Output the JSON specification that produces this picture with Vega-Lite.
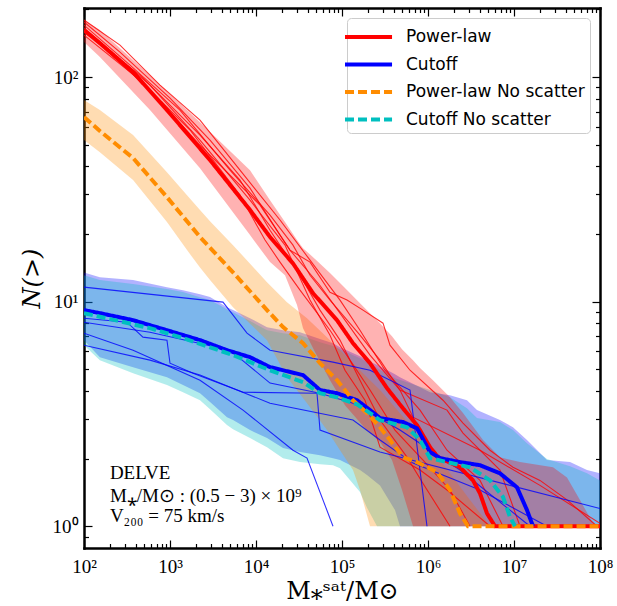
{
  "$schema": "https://vega.github.io/schema/vega-lite/v6.json",
  "width": 516,
  "height": 540,
  "autosize": {"type": "none"},
  "padding": {"left": 84, "top": 8, "right": 17, "bottom": 58},
  "background": "white",
  "config": {
    "view": {"stroke": null},
    "axis": {
      "domain": true, "domainColor": "black", "domainWidth": 2.5, "domainCap": "square",
      "grid": false, "ticks": true, "tickColor": "black", "tickWidth": 1.2,
      "labelFont": "Liberation Serif", "labelFontSize": 19, "labelColor": "black",
      "titleFont": "DejaVu Serif", "titleFontSize": 24, "titleColor": "black", "titleFontWeight": "normal",
      "zindex": 1, "labelOverlap": false, "labelFlush": false, "labelBound": false
    },
    "legend": {
      "orient": "top-right", "offset": 10, "padding": 5,
      "fillColor": "rgba(255,255,255,0.8)", "strokeColor": "#cccccc", "cornerRadius": 4,
      "labelFont": "DejaVu Sans", "labelFontSize": 17, "labelColor": "black", "labelLimit": 400,
      "symbolType": "M-1.75,0L2.17,0", "symbolSize": 576, "labelOffset": 26, "rowPadding": 5.5
    }
  },
  "datasets": {
    "med": [
      {"series":"Power-law","m":100,"n":161.9},{"series":"Power-law","m":153,"n":141.6},{"series":"Power-law","m":372,"n":105.3},{"series":"Power-law","m":922,"n":71.3},{"series":"Power-law","m":2920,"n":42.7},{"series":"Power-law","m":8517,"n":25.6},{"series":"Power-law","m":14560,"n":19.4},{"series":"Power-law","m":26920,"n":14.8},{"series":"Power-law","m":46050,"n":10.9},{"series":"Power-law","m":87450,"n":8.27},{"series":"Power-law","m":134200,"n":6.53},{"series":"Power-law","m":211700,"n":5.32},{"series":"Power-law","m":333400,"n":4.12},{"series":"Power-law","m":511700,"n":3.35},{"series":"Power-law","m":745100,"n":2.82},{"series":"Power-law","m":1055000,"n":2.25},{"series":"Power-law","m":1306000,"n":2.03},{"series":"Power-law","m":2357000,"n":1.83},{"series":"Power-law","m":3337000,"n":1.6},{"series":"Power-law","m":4025000,"n":1.4},{"series":"Power-law","m":4856000,"n":1.14},{"series":"Power-law","m":6010000,"n":1},{"series":"Power-law","m":100000000,"n":1},
      {"series":"Cutoff","m":100,"n":9.17},{"series":"Cutoff","m":153,"n":8.89},{"series":"Cutoff","m":372,"n":8.27},{"series":"Cutoff","m":922,"n":7.46},{"series":"Cutoff","m":2233,"n":6.74},{"series":"Cutoff","m":4600,"n":6.08},{"series":"Cutoff","m":8517,"n":5.66},{"series":"Cutoff","m":14560,"n":5.11},{"series":"Cutoff","m":35230,"n":4.71},{"series":"Cutoff","m":55480,"n":4.04},{"series":"Cutoff","m":87450,"n":3.91},{"series":"Cutoff","m":149400,"n":3.64},{"series":"Cutoff","m":211700,"n":3.29},{"series":"Cutoff","m":276700,"n":3.03},{"series":"Cutoff","m":511700,"n":2.91},{"series":"Cutoff","m":745100,"n":2.73},{"series":"Cutoff","m":1055000,"n":2.14},{"series":"Cutoff","m":1380000,"n":2.01},{"series":"Cutoff","m":2357000,"n":1.93},{"series":"Cutoff","m":4025000,"n":1.87},{"series":"Cutoff","m":6870000,"n":1.72},{"series":"Cutoff","m":10830000,"n":1.49},{"series":"Cutoff","m":14160000,"n":1.18},{"series":"Cutoff","m":16630000,"n":1},
      {"series":"Power-law No scatter","m":100,"n":66.4},{"series":"Power-law No scatter","m":153,"n":57.5},{"series":"Power-law No scatter","m":372,"n":43.6},{"series":"Power-law No scatter","m":922,"n":29.2},{"series":"Power-law No scatter","m":2233,"n":19.4},{"series":"Power-law No scatter","m":5405,"n":13.5},{"series":"Power-law No scatter","m":13430,"n":9.17},{"series":"Power-law No scatter","m":20620,"n":7.7},{"series":"Power-law No scatter","m":35230,"n":6.53},{"series":"Power-law No scatter","m":55480,"n":5.32},{"series":"Power-law No scatter","m":87450,"n":4.47},{"series":"Power-law No scatter","m":134200,"n":3.64},{"series":"Power-law No scatter","m":195300,"n":3.19},{"series":"Power-law No scatter","m":276700,"n":2.76},{"series":"Power-law No scatter","m":361400,"n":2.42},{"series":"Power-law No scatter","m":511700,"n":2.03},{"series":"Power-law No scatter","m":745100,"n":1.93},{"series":"Power-law No scatter","m":1273000,"n":1.74},{"series":"Power-law No scatter","m":1802000,"n":1.45},{"series":"Power-law No scatter","m":2357000,"n":1.14},{"series":"Power-law No scatter","m":2918000,"n":1},{"series":"Power-law No scatter","m":100000000,"n":1},
      {"series":"Cutoff No scatter","m":100,"n":8.89},{"series":"Cutoff No scatter","m":585,"n":7.62},{"series":"Cutoff No scatter","m":1416,"n":6.88},{"series":"Cutoff No scatter","m":5405,"n":5.78},{"series":"Cutoff No scatter","m":14560,"n":4.95},{"series":"Cutoff No scatter","m":35230,"n":4.38},{"series":"Cutoff No scatter","m":55480,"n":3.91},{"series":"Cutoff No scatter","m":87450,"n":3.75},{"series":"Cutoff No scatter","m":149400,"n":3.49},{"series":"Cutoff No scatter","m":211700,"n":3.19},{"series":"Cutoff No scatter","m":276700,"n":2.97},{"series":"Cutoff No scatter","m":570000,"n":2.76},{"series":"Cutoff No scatter","m":807600,"n":2.42},{"series":"Cutoff No scatter","m":1055000,"n":2.01},{"series":"Cutoff No scatter","m":1663000,"n":1.93},{"series":"Cutoff No scatter","m":3079000,"n":1.83},{"series":"Cutoff No scatter","m":5262000,"n":1.6},{"series":"Cutoff No scatter","m":7450000,"n":1.35},{"series":"Cutoff No scatter","m":8980000,"n":1.1},{"series":"Cutoff No scatter","m":10280000,"n":1}
    ],
    "bandRed": [
      {"m":100,"n":179.5,"n2":143.2},{"m":153,"n":161.9,"n2":122.7},{"m":585,"n":102,"n2":71.3},{"m":2233,"n":63,"n2":39.3},{"m":8517,"n":38.5,"n2":19.8},{"m":14560,"n":28.3,"n2":15},{"m":21740,"n":22.6,"n2":13.1},{"m":29980,"n":18.8,"n2":9.65},{"m":35230,"n":17.3,"n2":7.62},{"m":48550,"n":15.5,"n2":5.96},{"m":72510,"n":13.4,"n2":4.47},{"m":108300,"n":11.5,"n2":3.46},{"m":185000,"n":9.35,"n2":2.73},{"m":276700,"n":8.02,"n2":2.37},{"m":381100,"n":7.02,"n2":1.97},{"m":498800,"n":6.14,"n2":1.45},{"m":669600,"n":5.49,"n2":1},{"m":807600,"n":5.06,"n2":1},{"m":1143000,"n":4.47,"n2":1},{"m":1802000,"n":3.75,"n2":1},{"m":2553000,"n":3.19,"n2":1},{"m":4364000,"n":2.42,"n2":1},{"m":6870000,"n":2.03,"n2":1},{"m":11740000,"n":1.93,"n2":1},{"m":28400000,"n":1.83,"n2":1},{"m":41330000,"n":1.65,"n2":1},{"m":58500000,"n":1.31,"n2":1},{"m":82900000,"n":1.03,"n2":1},{"m":92300000,"n":1,"n2":1}
    ],
    "bandOrange": [
      {"m":100,"n":79,"n2":52.4},{"m":153,"n":71.3,"n2":46.3},{"m":372,"n":55.2,"n2":34.8},{"m":922,"n":37.7,"n2":22.6},{"m":1578,"n":29.8,"n2":16.96},{"m":2233,"n":25.6,"n2":14.2},{"m":2920,"n":22.8,"n2":12.47},{"m":5405,"n":17.85,"n2":9.45},{"m":13430,"n":12.2,"n2":6.74},{"m":22920,"n":9.95,"n2":4.61},{"m":39190,"n":8.44,"n2":3.53},{"m":66910,"n":6.95,"n2":2.68},{"m":94790,"n":6.08,"n2":2.18},{"m":134200,"n":5.32,"n2":1.78},{"m":161900,"n":4.95,"n2":1.45},{"m":211700,"n":4.47,"n2":1},{"m":276700,"n":4.04,"n2":1},{"m":617700,"n":2.82,"n2":1},{"m":1380000,"n":1.97,"n2":1},{"m":3079000,"n":1.31,"n2":1},{"m":5262000,"n":1,"n2":1}
    ],
    "bandBlue": [
      {"m":100,"n":13.5,"n2":6.74},{"m":153,"n":12.85,"n2":5.66},{"m":372,"n":12.47,"n2":5.11},{"m":922,"n":11.6,"n2":4.61},{"m":1416,"n":11.25,"n2":4.25},{"m":2233,"n":10.8,"n2":3.91},{"m":2920,"n":10.5,"n2":3.57},{"m":4600,"n":9.45,"n2":3.06},{"m":5405,"n":9.17,"n2":2.97},{"m":8517,"n":8.44,"n2":2.68},{"m":13430,"n":7.7,"n2":2.47},{"m":20620,"n":7.46,"n2":2.23},{"m":32500,"n":7.31,"n2":2.14},{"m":55480,"n":6.81,"n2":2.07},{"m":78590,"n":6.53,"n2":2.01},{"m":94790,"n":6.27,"n2":1.97},{"m":161900,"n":5.72,"n2":1.78},{"m":195300,"n":5.49,"n2":1.69},{"m":276700,"n":5.16,"n2":1.52},{"m":413100,"n":4.75,"n2":1.18},{"m":472100,"n":4.61,"n2":1},{"m":1055000,"n":3.95,"n2":1},{"m":1802000,"n":3.83,"n2":1},{"m":2841000,"n":3.64,"n2":1},{"m":3713000,"n":3.29,"n2":1},{"m":6870000,"n":2.97,"n2":1},{"m":9730000,"n":2.76,"n2":1},{"m":14160000,"n":2.42,"n2":1},{"m":24190000,"n":1.97,"n2":1},{"m":44800000,"n":1.93,"n2":1},{"m":70600000,"n":1.78,"n2":1},{"m":100000000,"n":1.72,"n2":1}
    ],
    "bandCyan": [
      {"m":100,"n":13.1,"n2":6.4},{"m":153,"n":12.47,"n2":5.49},{"m":372,"n":11.97,"n2":4.8},{"m":922,"n":11.37,"n2":4.25},{"m":1416,"n":11.03,"n2":3.95},{"m":2233,"n":10.47,"n2":3.64},{"m":2920,"n":10.16,"n2":3.32},{"m":4600,"n":9.26,"n2":2.82},{"m":5405,"n":8.98,"n2":2.7},{"m":8517,"n":8.19,"n2":2.47},{"m":13430,"n":7.46,"n2":2.25},{"m":20620,"n":7.24,"n2":2.01},{"m":32500,"n":7.09,"n2":1.93},{"m":55480,"n":6.6,"n2":1.89},{"m":78590,"n":6.34,"n2":1.87},{"m":94790,"n":6.14,"n2":1.81},{"m":161900,"n":5.6,"n2":1.42},{"m":195300,"n":5.38,"n2":1.21},{"m":255300,"n":5.06,"n2":1},{"m":413100,"n":4.56,"n2":1},{"m":1055000,"n":4.04,"n2":1},{"m":1802000,"n":3.75,"n2":1},{"m":2841000,"n":3.35,"n2":1},{"m":3713000,"n":3.03,"n2":1},{"m":6870000,"n":2.91,"n2":1},{"m":9730000,"n":2.68,"n2":1},{"m":14160000,"n":2.34,"n2":1},{"m":24190000,"n":1.99,"n2":1},{"m":44800000,"n":1.85,"n2":1},{"m":70600000,"n":1.72,"n2":1},{"m":100000000,"n":1.6,"n2":1}
    ],
    "thinRed": [
      {"id":"R1","m":100,"n":175.8},{"id":"R1","m":262,"n":129.2},{"id":"R1","m":1000,"n":80.6},{"id":"R1","m":2920,"n":52.4},{"id":"R1","m":8517,"n":32},{"id":"R1","m":19020,"n":19.8},{"id":"R1","m":24830,"n":16.96},{"id":"R1","m":42480,"n":15},{"id":"R1","m":72510,"n":11},{"id":"R1","m":114300,"n":10.16},{"id":"R1","m":175500,"n":9.17},{"id":"R1","m":299900,"n":8.02},{"id":"R1","m":361400,"n":6.4},{"id":"R1","m":617700,"n":4.95},{"id":"R1","m":1494000,"n":3.64},{"id":"R1","m":2553000,"n":2.88},{"id":"R1","m":5262000,"n":2.18},{"id":"R1","m":9730000,"n":1.83},{"id":"R1","m":20050000,"n":1.6},{"id":"R1","m":41330000,"n":1.31},{"id":"R1","m":92300000,"n":1},
      {"id":"R2","m":100,"n":170.4},{"id":"R2","m":343,"n":113.1},{"id":"R2","m":1306,"n":71.3},{"id":"R2","m":4985,"n":38.5},{"id":"R2","m":14560,"n":24.3},{"id":"R2","m":26920,"n":17.85},{"id":"R2","m":42480,"n":13.1},{"id":"R2","m":72510,"n":10.16},{"id":"R2","m":161900,"n":7.09},{"id":"R2","m":276700,"n":5.49},{"id":"R2","m":472100,"n":4.04},{"id":"R2","m":1663000,"n":3.29},{"id":"R2","m":2553000,"n":2.6},{"id":"R2","m":6870000,"n":1.78},{"id":"R2","m":11740000,"n":1},
      {"id":"R3","m":100,"n":153.8},{"id":"R3","m":448,"n":97},{"id":"R3","m":1709,"n":58.1},{"id":"R3","m":6517,"n":29.8},{"id":"R3","m":12730,"n":18.8},{"id":"R3","m":19020,"n":15},{"id":"R3","m":32500,"n":11.25},{"id":"R3","m":72510,"n":7.46},{"id":"R3","m":123800,"n":5.49},{"id":"R3","m":211700,"n":4.04},{"id":"R3","m":413100,"n":2.68},{"id":"R3","m":875300,"n":1.97},{"id":"R3","m":1802000,"n":1.45},{"id":"R3","m":3079000,"n":1},
      {"id":"R4","m":100,"n":165.3},{"id":"R4","m":585,"n":92.1},{"id":"R4","m":2233,"n":52.4},{"id":"R4","m":8517,"n":28.3},{"id":"R4","m":21740,"n":17.85},{"id":"R4","m":42480,"n":10.16},{"id":"R4","m":72510,"n":7.09},{"id":"R4","m":108300,"n":4.95},{"id":"R4","m":185000,"n":3.64},{"id":"R4","m":276700,"n":2.25},{"id":"R4","m":807600,"n":1.78},{"id":"R4","m":1663000,"n":1.45},{"id":"R4","m":5262000,"n":1},
      {"id":"R5","m":100,"n":158.6},{"id":"R5","m":448,"n":102},{"id":"R5","m":2233,"n":55.1},{"id":"R5","m":6517,"n":34.8},{"id":"R5","m":14560,"n":20.8},{"id":"R5","m":32500,"n":13.1},{"id":"R5","m":55480,"n":9.17},{"id":"R5","m":94790,"n":6.74},{"id":"R5","m":161900,"n":4.47},{"id":"R5","m":276700,"n":2.97},{"id":"R5","m":570000,"n":2.03},{"id":"R5","m":875300,"n":1.55},{"id":"R5","m":1802000,"n":1},
      {"id":"R6","m":100,"n":161.9},{"id":"R6","m":585,"n":87.5},{"id":"R6","m":2233,"n":49.8},{"id":"R6","m":11136,"n":26.9},{"id":"R6","m":24830,"n":16.96},{"id":"R6","m":55480,"n":11.8},{"id":"R6","m":108300,"n":8.27},{"id":"R6","m":211700,"n":5.78},{"id":"R6","m":472100,"n":4.04},{"id":"R6","m":669600,"n":3.06},{"id":"R6","m":4025000,"n":2.18},{"id":"R6","m":20050000,"n":1.52},{"id":"R6","m":100000000,"n":1.03},
      {"id":"R7","m":100,"n":179.5},{"id":"R7","m":262,"n":138.8},{"id":"R7","m":765,"n":92.1},{"id":"R7","m":2233,"n":64.3},{"id":"R7","m":6517,"n":38.5},{"id":"R7","m":19020,"n":23.1},{"id":"R7","m":42480,"n":15.3},{"id":"R7","m":94790,"n":10.16},{"id":"R7","m":161900,"n":7.46},{"id":"R7","m":316200,"n":4.95},{"id":"R7","m":807600,"n":3.29},{"id":"R7","m":1663000,"n":2.18},{"id":"R7","m":4025000,"n":1.6},{"id":"R7","m":7450000,"n":1}
    ],
    "thinBlue": [
      {"id":"B1","m":100,"n":11.6},{"id":"B1","m":4130,"n":9.95},{"id":"B1","m":7857,"n":7.24},{"id":"B1","m":14560,"n":6.08},{"id":"B1","m":78590,"n":5.38},{"id":"B1","m":211700,"n":4.95},{"id":"B1","m":617700,"n":4.04},{"id":"B1","m":973000,"n":1},
      {"id":"B2","m":100,"n":8.44},{"id":"B2","m":316,"n":8.1},{"id":"B2","m":485,"n":6.95},{"id":"B2","m":922,"n":6.74},{"id":"B2","m":1000,"n":5.32},{"id":"B2","m":1850,"n":4.8},{"id":"B2","m":7065,"n":3.95},{"id":"B2","m":51190,"n":3.91},{"id":"B2","m":55480,"n":2.68},{"id":"B2","m":276700,"n":2.14},{"id":"B2","m":100000000,"n":1.2},
      {"id":"B3","m":100,"n":7.24},{"id":"B3","m":372,"n":6.08},{"id":"B3","m":2233,"n":4.47},{"id":"B3","m":7065,"n":3.29},{"id":"B3","m":26920,"n":2.18},{"id":"B3","m":39190,"n":2.01},{"id":"B3","m":78590,"n":1},
      {"id":"B4","m":100,"n":8.1},{"id":"B4","m":585,"n":7.31},{"id":"B4","m":4985,"n":6.08},{"id":"B4","m":14560,"n":4.34},{"id":"B4","m":55480,"n":3.91},{"id":"B4","m":134200,"n":3.53},{"id":"B4","m":472100,"n":2.68},{"id":"B4","m":2357000,"n":1.78},{"id":"B4","m":8980000,"n":1.18},{"id":"B4","m":15350000,"n":1},
      {"id":"B5","m":100,"n":6.4},{"id":"B5","m":585,"n":5.49},{"id":"B5","m":2233,"n":4.71},{"id":"B5","m":14560,"n":3.53},{"id":"B5","m":134200,"n":2.97},{"id":"B5","m":276700,"n":2.42},{"id":"B5","m":669600,"n":1.91},{"id":"B5","m":4025000,"n":1.45},{"id":"B5","m":24190000,"n":1}
    ],
    "notes": [
      {"m":200,"n":1.62,"label":"DELVE"},
      {"m":200,"n":1.279,"label":"M⁎/M⊙ : (0.5 − 3) × 10⁹"},
      {"m":200,"n":1.042,"label":"V₂₀₀ = 75 km/s"}
    ]
  },
  "layer": [
    {
      "encoding": {
        "x": {"field": "m", "type": "quantitative",
          "scale": {"type": "log", "domain": [100, 100000000], "nice": false},
          "axis": {"orient": "bottom", "title": "M⁎ˢᵃᵗ/M⊙", "titlePadding": 0, "labelPadding": 17,
            "values": [100,200,300,400,500,600,700,800,900,1000,2000,3000,4000,5000,6000,7000,8000,9000,10000,20000,30000,40000,50000,60000,70000,80000,90000,100000,200000,300000,400000,500000,600000,700000,800000,900000,1000000,2000000,3000000,4000000,5000000,6000000,7000000,8000000,9000000,10000000,20000000,30000000,40000000,50000000,60000000,70000000,80000000,90000000,100000000],
            "labelExpr": "abs(log(datum.value)/LN10 - round(log(datum.value)/LN10)) < 0.001 ? '10' + ['⁰','¹','²','³','⁴','⁵','⁶','⁷','⁸','⁹'][round(log(datum.value)/LN10)] : ''",
            "tickSize": {"condition": {"test": "abs(log(datum.value)/LN10 - round(log(datum.value)/LN10)) < 0.001", "value": -8}, "value": -4.5}}},
        "y": {"field": "n", "type": "quantitative",
          "scale": {"type": "log", "domain": [0.8, 203], "nice": false},
          "axis": {"orient": "left", "title": "N(>)", "titleFontStyle": "italic", "titlePadding": 8, "labelPadding": 14,
            "values": [0.9,1,2,3,4,5,6,7,8,9,10,20,30,40,50,60,70,80,90,100,200],
            "labelExpr": "abs(log(datum.value)/LN10 - round(log(datum.value)/LN10)) < 0.001 ? '10' + ['⁰','¹','²','³','⁴','⁵','⁶','⁷','⁸','⁹'][round(log(datum.value)/LN10)] : ''",
            "tickSize": {"condition": {"test": "abs(log(datum.value)/LN10 - round(log(datum.value)/LN10)) < 0.001", "value": -8}, "value": -4.5}}}
      },
      "layer": [
        {"data": {"name": "bandBlue"}, "mark": {"type": "area", "color": "#0000ff", "opacity": 0.3, "clip": true}, "encoding": {"y2": {"field": "n2"}}},
        {"data": {"name": "bandCyan"}, "mark": {"type": "area", "color": "#00bfbf", "opacity": 0.3, "clip": true}, "encoding": {"y2": {"field": "n2"}}},
        {"data": {"name": "bandOrange"}, "mark": {"type": "area", "color": "#ff8c00", "opacity": 0.3, "clip": true}, "encoding": {"y2": {"field": "n2"}}},
        {"data": {"name": "bandRed"}, "mark": {"type": "area", "color": "#ff0000", "opacity": 0.3, "clip": true}, "encoding": {"y2": {"field": "n2"}}},
        {"data": {"name": "thinRed"}, "mark": {"type": "line", "color": "#ff0000", "strokeWidth": 1.1, "opacity": 0.8, "clip": true}, "encoding": {"detail": {"field": "id"}}},
        {"data": {"name": "thinBlue"}, "mark": {"type": "line", "color": "#0000ff", "strokeWidth": 1.1, "opacity": 0.8, "clip": true}, "encoding": {"detail": {"field": "id"}}},
        {"data": {"name": "med"}, "mark": {"type": "line", "clip": true},
          "encoding": {
            "color": {"field": "series", "type": "nominal", "title": null,
              "scale": {"domain": ["Power-law", "Cutoff", "Power-law No scatter", "Cutoff No scatter"], "range": ["#ff0000", "#0000ff", "#ff8c00", "#00bfbf"]}},
            "strokeDash": {"field": "series", "type": "nominal", "title": null,
              "scale": {"domain": ["Power-law", "Cutoff", "Power-law No scatter", "Cutoff No scatter"], "range": [[1, 0], [1, 0], [9, 4], [9, 4]]}},
            "strokeWidth": {"field": "series", "type": "nominal", "title": null,
              "scale": {"domain": ["Power-law", "Cutoff", "Power-law No scatter", "Cutoff No scatter"], "range": [4, 4, 2.6, 2.6]}}
          }},
        {"data": {"name": "notes"}, "mark": {"type": "text", "align": "left", "baseline": "alphabetic", "font": "Liberation Serif", "fontSize": 19, "color": "black"},
          "encoding": {"text": {"field": "label"}}}
      ]
    },
    {
      "data": {"name": "notes"},
      "mark": {"type": "point", "opacity": 0},
      "encoding": {
        "x": {"field": "m", "type": "quantitative",
          "scale": {"type": "log", "domain": [100, 100000000], "nice": false},
          "axis": {"orient": "top", "title": null, "labels": false,
            "values": [100,200,300,400,500,600,700,800,900,1000,2000,3000,4000,5000,6000,7000,8000,9000,10000,20000,30000,40000,50000,60000,70000,80000,90000,100000,200000,300000,400000,500000,600000,700000,800000,900000,1000000,2000000,3000000,4000000,5000000,6000000,7000000,8000000,9000000,10000000,20000000,30000000,40000000,50000000,60000000,70000000,80000000,90000000,100000000],
            "tickSize": {"condition": {"test": "abs(log(datum.value)/LN10 - round(log(datum.value)/LN10)) < 0.001", "value": -8}, "value": -4.5}}},
        "y": {"field": "n", "type": "quantitative",
          "scale": {"type": "log", "domain": [0.8, 203], "nice": false},
          "axis": {"orient": "right", "title": null, "labels": false,
            "values": [0.9,1,2,3,4,5,6,7,8,9,10,20,30,40,50,60,70,80,90,100,200],
            "tickSize": {"condition": {"test": "abs(log(datum.value)/LN10 - round(log(datum.value)/LN10)) < 0.001", "value": -8}, "value": -4.5}}}
      }
    }
  ],
  "resolve": {"axis": {"x": "independent", "y": "independent"}}
}
